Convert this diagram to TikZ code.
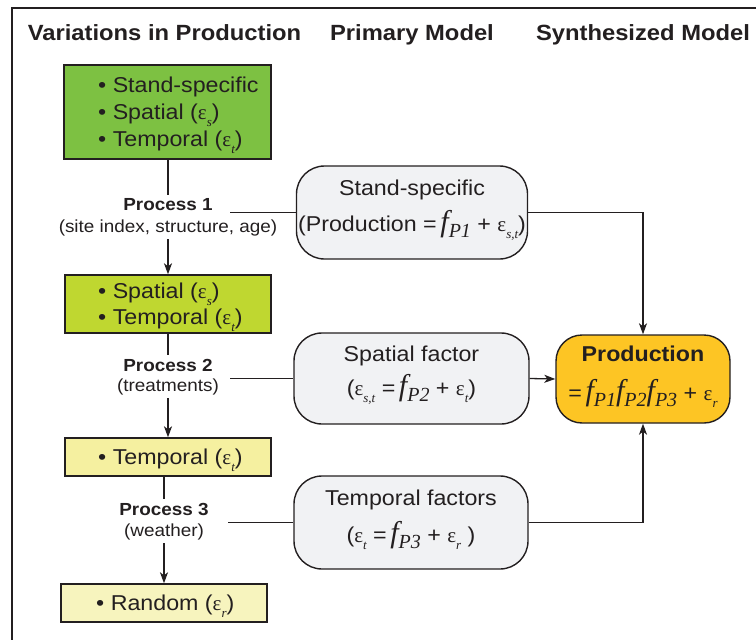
\documentclass[tikz,border=0pt]{standalone}
\usepackage{fontspec}
\setmainfont{Liberation Sans}[FakeStretch=1.08]
\newfontfamily\formfont{Liberation Serif}
\usetikzlibrary{arrows.meta}

\definecolor{ink}{HTML}{231F20}
\definecolor{greenA}{HTML}{7DC142}
\definecolor{greenB}{HTML}{BFD730}
\definecolor{paleA}{HTML}{F5F0A0}
\definecolor{paleB}{HTML}{F7F4BE}
\definecolor{cloud}{HTML}{F1F2F4}
\definecolor{gold}{HTML}{FDC524}

% f with a "P" subscript, and an epsilon with an italic subscript
\newcommand\fsub[1]{{\formfont\itshape\fontsize{30}{30}\selectfont f}\raisebox{-6pt}{\formfont\itshape\fontsize{20}{20}\selectfont P#1}}
\newcommand\epsub[1]{{\formfont\fontsize{21}{21}\selectfont ε}\raisebox{-7pt}{\formfont\itshape\fontsize{13}{13}\selectfont #1}}

\tikzset{
  txt/.style={inner sep=0pt, anchor=base, text=ink, font=\fontsize{21.5}{26}\selectfont},
  bul/.style={txt, anchor=base west},
  head/.style={txt, font=\fontsize{22}{26}\selectfont\bfseries},
  ptitle/.style={txt, anchor=center, inner xsep=0pt, inner ysep=4pt, font=\fontsize{17.5}{21}\selectfont\bfseries},
  psub/.style={txt, anchor=center, inner xsep=0pt, inner ysep=3pt, font=\fontsize{17.5}{21}\selectfont},
  varbox/.style={draw=ink, line width=1.4pt, inner sep=0pt},
  modelbox/.style={draw=ink, line width=1.4pt, fill=cloud, rounded corners=28pt, inner sep=0pt},
  conn/.style={draw=ink, line width=1.3pt},
  arr/.style={conn, -{Stealth[length=11pt,width=8pt,inset=3pt]}},
}

\begin{document}
\begin{tikzpicture}[x=1pt,y=-1pt]
\useasboundingbox (0,0) rectangle (756,640);

% outer frame
\draw[ink, line width=2pt] (12,640) -- (12,8) -- (756,8);

% column headings
\node[head] (h1) at (164.5,40) {Variations in Production};
\node[head] (h2) at (412,40) {Primary Model};
\node[head] (h3) at (643,40) {Synthesized Model};

% variation boxes
\node[varbox, fill=greenA, minimum width=207pt, minimum height=94pt] (b1) at (167.5,112) {};
\node[varbox, fill=greenB, minimum width=206pt, minimum height=58pt] (b2) at (168,304) {};
\node[varbox, fill=paleA, minimum width=206pt, minimum height=38pt] (b3) at (168,457) {};
\node[varbox, fill=paleB, minimum width=206pt, minimum height=38pt] (b4) at (164,603) {};

\node[bul] (b1a) at (98,92) {• Stand-specific};
\node[bul] (b1b) at (98,119) {• Spatial (\epsub{s})};
\node[bul] (b1c) at (98,146) {• Temporal (\epsub{t})};
\node[bul] (b2a) at (98,298) {• Spatial (\epsub{s})};
\node[bul] (b2b) at (98,324) {• Temporal (\epsub{t})};
\node[bul] (b3a) at (98,464) {• Temporal (\epsub{t})};
\node[bul] (b4a) at (96,610) {• Random (\epsub{r})};

% process labels
\node[ptitle] (p1t) at (168,205) {Process 1};
\node[psub] (p1s) at (168,228) {(site index, structure, age)};
\node[ptitle] (p2t) at (168,365) {Process 2};
\node[psub] (p2s) at (168,387) {(treatments)};
\node[ptitle] (p3t) at (164,509) {Process 3};
\node[psub] (p3s) at (164,532) {(weather)};

\coordinate (c1) at (230,212.5);
\coordinate (c2) at (230,378.5);
\coordinate (c3) at (228,522.5);

% model boxes
\node[modelbox, minimum width=231pt, minimum height=93pt] (stand) at (412,212.5) {};
\node[modelbox, minimum width=235pt, minimum height=91pt] (spat) at (411.5,378.5) {};
\node[modelbox, minimum width=234pt, minimum height=93pt] (temp) at (411,522.5) {};
\node[modelbox, fill=gold, rounded corners=26pt, minimum width=174pt, minimum height=88pt] (prod) at (643,379) {};

\node[txt] (stand1) at (412,195) {Stand-specific};
\node[txt] (stand2) at (412,231) {(Production =\,\fsub{1} + \epsub{s,t})};
\node[txt] (spat1) at (411.5,361) {Spatial factor};
\node[txt] (spat2) at (411.5,395) {(\epsub{s,t} =\,\fsub{2} + \epsub{t})};
\node[txt] (temp1) at (411,505) {Temporal factors};
\node[txt] (temp2) at (411,542) {(\epsub{t} =\,\fsub{3} + \epsub{r} )};
\node[txt, font=\fontsize{21.5}{26}\selectfont\bfseries] (prod1) at (643,361) {Production};
\node[txt] (prod2) at (643,400) {=\,\fsub{1}\fsub{2}\fsub{3} + \epsub{r}};

% flow down the variations column
\draw[conn] (p1t.north |- b1.south) -- (p1t.north);
\draw[arr] (p1s.south) -- (p1s.south |- b2.north);
\draw[conn] (p2t.north |- b2.south) -- (p2t.north);
\draw[arr] (p2s.south) -- (p2s.south |- b3.north);
\draw[conn] (p3t.north |- b3.south) -- (p3t.north);
\draw[arr] (p3s.south) -- (p3s.south |- b4.north);

% processes feed the primary models
\draw[conn] (c1) -- (stand.west);
\draw[conn] (c2) -- (spat.west);
\draw[conn] (c3) -- (temp.west);

% primary models feed the synthesized model
\draw[arr] (stand.east) -| (prod.north);
\draw[arr] (spat.east) -- (prod.west);
\draw[arr] (temp.east) -| (prod.south);
\end{tikzpicture}
\end{document}
